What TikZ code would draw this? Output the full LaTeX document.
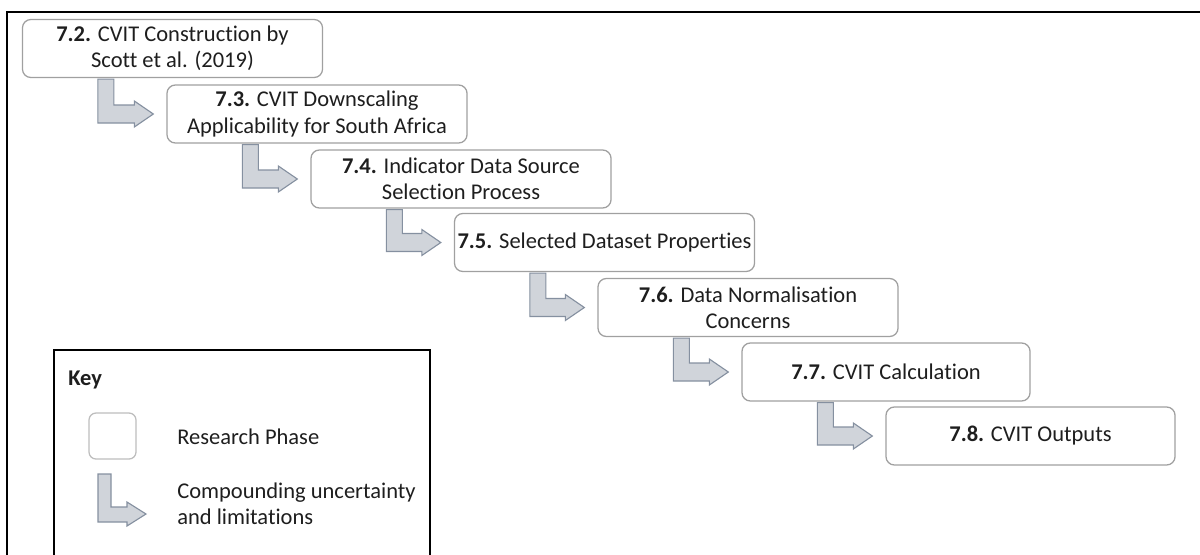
\documentclass[tikz,border=0pt]{standalone}
\usepackage{fontspec}
\setmainfont{Carlito}[Ligatures=NoCommon]
\usetikzlibrary{positioning,calc}
\definecolor{PhaseEdge}{HTML}{A0A0A0}
\definecolor{KeyEdge}{HTML}{BDBDBD}
\definecolor{FlowFill}{HTML}{D0D4DA}
\definecolor{FlowEdge}{HTML}{8590A0}
\definecolor{Ink}{HTML}{1E1E1E}

\tikzset{
  phase/.style={draw=PhaseEdge, line width=0.9pt, rounded corners=6pt, fill=white,
    minimum width=7.5cm, minimum height=1.45cm, inner sep=0pt, align=center,
    text=Ink, font=\fontsize{16}{18.5}\selectfont},
  flow/.style={fill=FlowFill, draw=FlowEdge, line width=0.8pt, line join=miter},
  keytext/.style={anchor=west, align=left, inner sep=0pt, text=Ink,
    font=\fontsize{16}{18.5}\selectfont}
}

% L-shaped block arrow from the foot of one phase into the side of the next
\newcommand{\phasearrow}[2]{%
  \coordinate (sA) at ($(#1.south west)+(76,1)$);
  \coordinate (hB) at ($(#2.west)+(-32,0)$);
  \draw[flow] (sA) -- ++(16,0) -- ($(sA |- hB)+(16,-9)$) -- ($(hB)+(0,-9)$)
    -- ($(hB)+(0,-13)$) -- ($(#2.west)+(-13,0)$) -- ($(hB)+(0,13)$)
    -- ($(hB)+(0,9)$) -- ($(sA |- hB)+(0,9)$) -- cycle;}

\begin{document}
\begin{tikzpicture}[x=0.025cm, y=-0.025cm]
  \useasboundingbox (0,0) rectangle (1200,554);
  % outer frame (only the top and left edges fall inside the picture)
  \draw[line width=1.4pt] (7,580) -- (7,12) -- (1220,12);
  % research phases
  \node[phase] (p72) at (172.5,48.5) {\textbf{7.2.} CVIT Construction by\\Scott et al. (2019)};
  \node[phase] (p73) at (317,114) {\textbf{7.3.} CVIT Downscaling\\Applicability for South Africa};
  \node[phase] (p74) at (461,179) {\textbf{7.4.} Indicator Data Source\\Selection Process};
  \node[phase] (p75) at (604.5,242.5) {\textbf{7.5.} Selected Dataset Properties};
  \node[phase] (p76) at (748,307.5) {\textbf{7.6.} Data Normalisation\\Concerns};
  \node[phase, minimum width=7.2cm] (p77) at (886,372) {\textbf{7.7.} CVIT Calculation};
  \node[phase, minimum width=7.225cm] (p78) at (1030.5,436) {\textbf{7.8.} CVIT Outputs};
  % compounding uncertainty between phases
  \phasearrow{p72}{p73}
  \phasearrow{p73}{p74}
  \phasearrow{p74}{p75}
  \phasearrow{p75}{p76}
  \phasearrow{p76}{p77}
  \phasearrow{p77}{p78}
  % key
  \draw[line width=1.1pt] (54,600) -- (54,350) -- (430,350) -- (430,600);
  \node[keytext, font=\fontsize{16}{18.5}\selectfont\bfseries] (keytitle) at (68,380) {Key};
  \node[draw=KeyEdge, line width=0.9pt, rounded corners=5pt,
    minimum width=1.175cm, minimum height=1.15cm] (keyphase) at (112.5,436) {};
  \node[keytext] (keyphaselabel) at (177,437) {Research Phase};
  \draw[flow] (98,474) -- (111,474) -- (111,507) -- (127,507) -- (127,502)
    -- (146,514) -- (127,526) -- (127,522) -- (98,522) -- cycle;
  \node[keytext] (keyflowlabel) at (177,504) {Compounding uncertainty\\and limitations};
\end{tikzpicture}
\end{document}
